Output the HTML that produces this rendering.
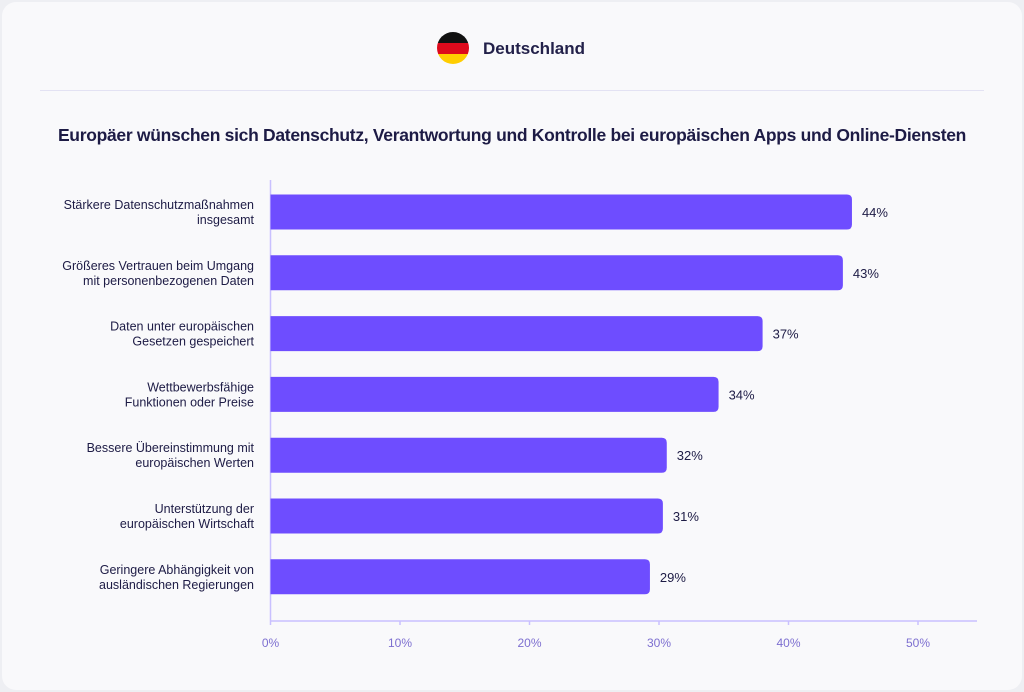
<!DOCTYPE html>
<html><head><meta charset="utf-8"><style>
body{margin:0;width:1024px;height:692px;background:#eeeff3;font-family:"Liberation Sans",sans-serif;overflow:hidden}
#card{position:absolute;left:2px;top:2px;width:1020px;height:688px;background:#f9f9fb;border-radius:14px}
</style></head><body>
<div id="card"></div>
<svg id="svg" width="1024" height="692" style="position:absolute;left:0;top:0">
  <defs><clipPath id="flag"><circle cx="453" cy="48" r="16"/></clipPath></defs>
  <g clip-path="url(#flag)">
    <rect x="437" y="32" width="32" height="11" fill="#111"/>
    <rect x="437" y="43" width="32" height="11" fill="#dd0a1c"/>
    <rect x="437" y="54" width="32" height="11" fill="#ffcd00"/>
  </g>
  <text x="483" y="54" font-size="17" font-weight="bold" fill="#23214a">Deutschland</text>
  <line x1="40" y1="90.5" x2="984" y2="90.5" stroke="#e3e2f3"/>
  <text x="512" y="141" text-anchor="middle" font-size="17.5" font-weight="bold" fill="#1d1b45" letter-spacing="-0.3">Europäer wünschen sich Datenschutz, Verantwortung und Kontrolle bei europäischen Apps und Online-Diensten</text>
  <g id="plot"></g>
</svg>
<script>
const categories=[["Stärkere Datenschutzmaßnahmen","insgesamt"],["Größeres Vertrauen beim Umgang","mit personenbezogenen Daten"],["Daten unter europäischen","Gesetzen gespeichert"],["Wettbewerbsfähige","Funktionen oder Preise"],["Bessere Übereinstimmung mit","europäischen Werten"],["Unterstützung der","europäischen Wirtschaft"],["Geringere Abhängigkeit von","ausländischen Regierungen"]];
const values=[44.9,44.2,38,34.6,30.6,30.3,29.3];
const valueLabels=["44%","43%","37%","34%","32%","31%","29%"];
const ticks=[0,10,20,30,40,50];
const tickLabels=["0%","10%","20%","30%","40%","50%"];
const NS="http://www.w3.org/2000/svg";
const g=document.getElementById('plot');
const x0=270.5,pxPer=12.95,axisY=621;
const xs=v=>x0+v*pxPer;
const ys=i=>212+i*60.8;
function mk(t,a,txt){const e=document.createElementNS(NS,t);for(const k in a)e.setAttribute(k,a[k]);if(txt!=null)e.textContent=txt;g.appendChild(e);return e;}
let e=mk('line',{x1:x0,y1:180,x2:x0,y2:axisY,stroke:'#c9c0ff','stroke-width':1.5});


e=mk('line',{x1:x0,y1:axisY,x2:977,y2:axisY,stroke:'#c9c0ff','stroke-width':1.5});


ticks.forEach((t,i)=>{
  let tk=mk('line',{x1:xs(t),y1:axisY,x2:xs(t),y2:axisY+4,stroke:'#c9c0ff','stroke-width':1.5});
  
  
  let tl=mk('text',{x:xs(t),y:647,'text-anchor':'middle','font-size':12,fill:'#7d6fd0'},tickLabels[i]);
  
  
});
values.forEach((v,i)=>{
  const y=ys(i),w=xs(v)-x0,h=35,r=5;
  const p=mk('path',{d:`M${x0} ${y-h/2}H${x0+w-r}Q${x0+w} ${y-h/2} ${x0+w} ${y-h/2+r}V${y+h/2-r}Q${x0+w} ${y+h/2} ${x0+w-r} ${y+h/2}H${x0}Z`,fill:'#6e4dff'});
  
  
  const vl=mk('text',{x:xs(v)+10,y:y+5,'font-size':13,fill:'#1d1b45'},valueLabels[i]);
  
  
  categories[i].forEach((ln,j)=>{
    const c=mk('text',{x:254,y:y-3+j*15,'text-anchor':'end','font-size':12.5,fill:'#1d1b45'},ln);
    
    
  });
});
</script>
</body></html>
